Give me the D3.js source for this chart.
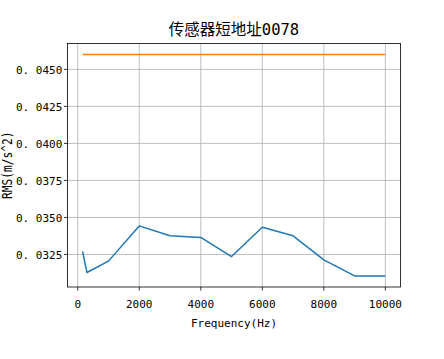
<!DOCTYPE html>
<html><head><meta charset="utf-8">
<script src="https://cdn.jsdelivr.net/npm/d3@7"></script>
<style>
html,body{margin:0;padding:0;background:#fff;}
svg{display:block;}
text{font-family:"DejaVu Sans Mono","Noto Sans CJK SC",monospace;fill:#000;}
</style></head>
<body>
<script>
const title = "传感器短地址0078";
const xLabel = "Frequency(Hz)";
const yLabel = "RMS(m/s^2)";
const freq = [160, 300, 1000, 2000, 3000, 4000, 5000, 6000, 7000, 8000, 9000, 10000];
const rms = [0.0327, 0.03128, 0.03205, 0.03443, 0.03376, 0.03365, 0.03236, 0.03434, 0.03376, 0.03214, 0.03105, 0.03105];
const limit = [0.0460, 0.0460, 0.0460, 0.0460, 0.0460, 0.0460, 0.0460, 0.0460, 0.0460, 0.0460, 0.0460, 0.0460];
const xTicks = [0, 2000, 4000, 6000, 8000, 10000];
const yTicks = [0.0325, 0.0350, 0.0375, 0.0400, 0.0425, 0.0450];

const W = 444, H = 359;
const L = 67.5, R = 400.5, T = 43.5, B = 287;

const svg = d3.select("body").append("svg").attr("width", W).attr("height", H);

const xmin = d3.min(freq), xmax = d3.max(freq);
const xm = (xmax - xmin) * 0.05;
const allY = rms.concat(limit);
const ymin = d3.min(allY), ymax = d3.max(allY);
const ym = (ymax - ymin) * 0.05;

const x = d3.scaleLinear().domain([xmin - xm, xmax + xm]).range([L, R]);
const y = d3.scaleLinear().domain([ymin - ym, ymax + ym]).range([B, T]);

// grid
const g = svg.append("g");
g.selectAll("line.gx").data(xTicks).join("line")
  .attr("x1", d => x(d)).attr("x2", d => x(d)).attr("y1", T).attr("y2", B)
  .attr("stroke", "#b0b0b0").attr("stroke-width", 0.8);
g.selectAll("line.gy").data(yTicks).join("line")
  .attr("y1", d => y(d)).attr("y2", d => y(d)).attr("x1", L).attr("x2", R)
  .attr("stroke", "#b0b0b0").attr("stroke-width", 0.8);

// lines
const line = d3.line().x((d, i) => x(freq[i])).y(d => y(d));
svg.append("path").datum(rms).attr("d", line)
  .attr("fill", "none").attr("stroke", "#1f77b4").attr("stroke-width", 1.5).attr("stroke-linejoin", "round");
svg.append("path").datum(limit).attr("d", line)
  .attr("fill", "none").attr("stroke", "#ff7f0e").attr("stroke-width", 1.5);

// spines
svg.append("rect").attr("x", L).attr("y", T).attr("width", R - L).attr("height", B - T)
  .attr("fill", "none").attr("stroke", "#000").attr("stroke-width", 0.8);

// x axis ticks
const xa = svg.append("g");
xa.selectAll("line").data(xTicks).join("line")
  .attr("x1", d => x(d)).attr("x2", d => x(d)).attr("y1", B).attr("y2", B + 3.5)
  .attr("stroke", "#000").attr("stroke-width", 0.8);
xa.selectAll("text").data(xTicks).join("text")
  .attr("x", d => x(d)).attr("y", 307.5).attr("text-anchor", "middle")
  .attr("font-size", 11).text(d => String(d));

// y axis ticks
const ya = svg.append("g");
ya.selectAll("line").data(yTicks).join("line")
  .attr("x1", L - 3.5).attr("x2", L).attr("y1", d => y(d)).attr("y2", d => y(d))
  .attr("stroke", "#000").attr("stroke-width", 0.8);
const fmt = d3.format(".4f");
ya.selectAll("text").data(yTicks).join("text")
  .attr("x", 16).attr("y", d => y(d) + 4.2).attr("text-anchor", "start")
  .attr("font-size", 11)
  .each(function(d) {
    const s = fmt(d);
    const t = d3.select(this);
    t.append("tspan").text(s.slice(0, 2));
    t.append("tspan").attr("dx", 6.6).text(s.slice(2));
  });

// labels
svg.append("text").attr("x", (L + R) / 2).attr("y", 327).attr("text-anchor", "middle")
  .attr("font-size", 11).text(xLabel);
svg.append("text").attr("transform", `translate(12,${(T + B) / 2}) rotate(-90) scale(0.8,1)`)
  .attr("text-anchor", "middle").attr("font-size", 14).text(yLabel);
svg.append("text").attr("x", (L + R) / 2).attr("y", 34.5).attr("text-anchor", "middle")
  .attr("font-size", 15.5).text(title);
</script>
</body></html>
